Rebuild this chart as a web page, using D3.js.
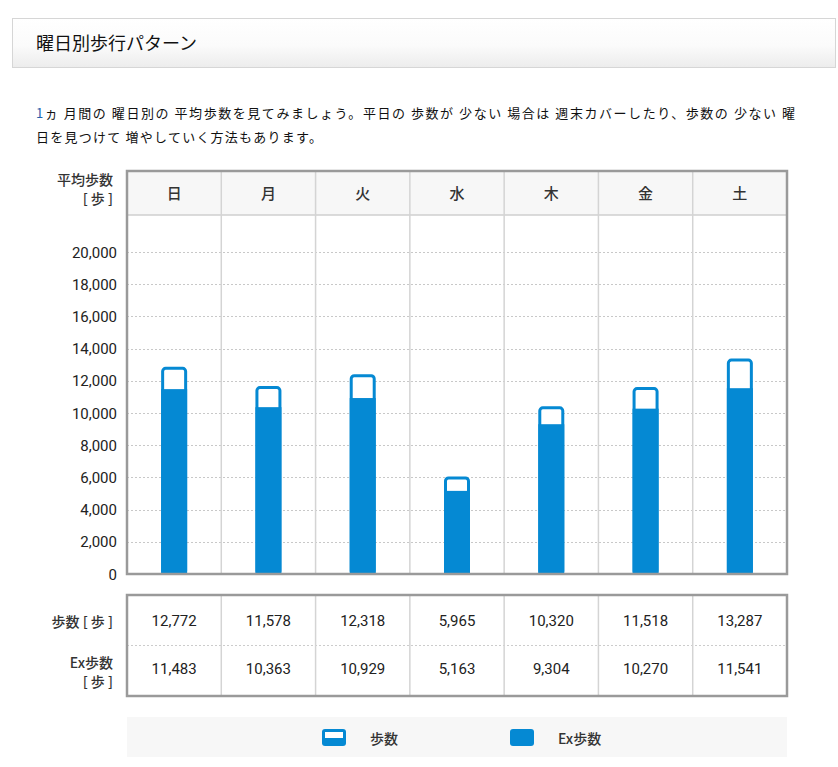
<!DOCTYPE html>
<html>
<head>
<meta charset="utf-8">
<script src="https://cdn.jsdelivr.net/npm/d3@7"></script>
<style>
  body { margin: 0; background: #fff; }
  svg { display: block; }
  .jp { font-family: "Noto Sans CJK JP", sans-serif; }
  .num { font-family: Roboto, "Noto Sans CJK JP", sans-serif; }
</style>
</head>
<body>
<div id="chart"></div>
<script>
// data
const days = ["日", "月", "火", "水", "木", "金", "土"];
const steps = [12772, 11578, 12318, 5965, 10320, 11518, 13287];
const exSteps = [11483, 10363, 10929, 5163, 9304, 10270, 11541];
const yTicks = [0, 2000, 4000, 6000, 8000, 10000, 12000, 14000, 16000, 18000, 20000];

const W = 838, H = 767;
const blue = "#0589d3";
const fmt = d3.format(",");

const svg = d3.select("#chart").append("svg")
    .attr("width", W)
    .attr("height", H);

// title box
const defs = svg.append("defs");
const grad = defs.append("linearGradient")
    .attr("id", "titleGrad")
    .attr("x1", 0).attr("y1", 0).attr("x2", 0).attr("y2", 1);
grad.append("stop").attr("offset", "0%").attr("stop-color", "#ffffff");
grad.append("stop").attr("offset", "55%").attr("stop-color", "#fbfbfb");
grad.append("stop").attr("offset", "100%").attr("stop-color", "#ececec");

svg.append("rect")
    .attr("x", 12.5).attr("y", 18.5)
    .attr("width", 823).attr("height", 49)
    .attr("fill", "url(#titleGrad)")
    .attr("stroke", "#d6d6d6");

svg.append("text")
    .attr("class", "jp")
    .attr("x", 36).attr("y", 50)
    .attr("font-size", 18)
    .attr("font-weight", 400)
    .attr("fill", "#111")
    .text("曜日別歩行パターン");

// description
const line1 = svg.append("text")
    .attr("class", "jp")
    .attr("x", 36).attr("y", 118)
    .attr("font-size", 13)
    .attr("font-weight", 400)
    .attr("fill", "#111")
    .attr("textLength", 759)
    .attr("lengthAdjust", "spacing");
line1.append("tspan").attr("fill", "#1f62ad").text("1");
line1.append("tspan").text("ヵ 月間の 曜日別の 平均歩数を見てみましょう。平日の 歩数が 少ない 場合は 週末カバーしたり、歩数の 少ない 曜");

svg.append("text")
    .attr("class", "jp")
    .attr("x", 36).attr("y", 142)
    .attr("font-size", 13)
    .attr("font-weight", 400)
    .attr("fill", "#111")
    .attr("textLength", 286)
    .attr("lengthAdjust", "spacing")
    .text("日を見つけて 増やしていく方法もあります。");

// chart area
const left = 127, right = 787;
const headTop = 171, headBottom = 215, plotBottom = 574;

const x = d3.scaleBand()
    .domain(days)
    .range([left, right]);

const y = d3.scaleLinear()
    .domain([0, 20000])
    .range([plotBottom, 252]);

// header background
svg.append("rect")
    .attr("x", left).attr("y", headTop)
    .attr("width", right - left).attr("height", headBottom - headTop)
    .attr("fill", "#f7f7f7");

svg.append("line")
    .attr("x1", left).attr("x2", right)
    .attr("y1", headBottom).attr("y2", headBottom)
    .attr("stroke", "#cfcfcf").attr("stroke-width", 1.5);

// dotted grid
svg.append("g")
    .selectAll("line")
    .data(yTicks.filter(d => d > 0))
    .join("line")
    .attr("x1", left).attr("x2", right)
    .attr("y1", d => Math.round(y(d)) + 0.5)
    .attr("y2", d => Math.round(y(d)) + 0.5)
    .attr("stroke", "#c8c8c8")
    .attr("stroke-dasharray", "2,2");

// column separators
svg.append("g")
    .selectAll("line")
    .data(days.slice(1))
    .join("line")
    .attr("x1", d => x(d)).attr("x2", d => x(d))
    .attr("y1", headTop).attr("y2", plotBottom)
    .attr("stroke", "#d4d4d4").attr("stroke-width", 1.5);

// day labels
svg.append("g")
    .selectAll("text")
    .data(days)
    .join("text")
    .attr("class", "jp")
    .attr("x", d => x(d) + x.bandwidth() / 2)
    .attr("y", 199)
    .attr("text-anchor", "middle")
    .attr("font-size", 15)
    .attr("font-weight", 500)
    .attr("fill", "#333")
    .text(d => d);

// y axis labels
svg.append("g")
    .selectAll("text")
    .data(yTicks)
    .join("text")
    .attr("class", "num")
    .attr("x", 117)
    .attr("y", d => y(d) + 5.5)
    .attr("text-anchor", "end")
    .attr("font-size", 15)
    .attr("font-weight", 400)
    .attr("fill", "#222")
    .text(d => fmt(d));

svg.append("text")
    .attr("class", "jp")
    .attr("x", 113).attr("y", 185)
    .attr("text-anchor", "end")
    .attr("font-size", 14)
    .attr("font-weight", 500)
    .attr("fill", "#333")
    .text("平均歩数");
svg.append("text")
    .attr("class", "jp")
    .attr("x", 113).attr("y", 204)
    .attr("text-anchor", "end")
    .attr("font-size", 14)
    .attr("font-weight", 500)
    .attr("fill", "#333")
    .text("[ 歩 ]");

// bars
const barW = 23;
const bars = svg.append("g")
    .selectAll("g")
    .data(days.map((d, i) => ({day: d, steps: steps[i], ex: exSteps[i]})))
    .join("g");

bars.append("rect")
    .attr("x", d => x(d.day) + x.bandwidth() / 2 - barW / 2)
    .attr("y", d => y(d.steps))
    .attr("width", barW)
    .attr("height", d => y(0) - y(d.steps))
    .attr("rx", 3)
    .attr("fill", "#fff")
    .attr("stroke", blue)
    .attr("stroke-width", 3);

bars.append("rect")
    .attr("x", d => x(d.day) + x.bandwidth() / 2 - barW / 2 - 1.5)
    .attr("y", d => y(d.ex))
    .attr("width", barW + 3)
    .attr("height", d => y(0) - y(d.ex))
    .attr("fill", blue);

// cover anything below the base line
svg.append("rect")
    .attr("x", left).attr("y", plotBottom)
    .attr("width", right - left).attr("height", 6)
    .attr("fill", "#fff");

// chart frame
svg.append("rect")
    .attr("x", left).attr("y", headTop)
    .attr("width", right - left).attr("height", plotBottom - headTop)
    .attr("fill", "none")
    .attr("stroke", "#9a9a9a")
    .attr("stroke-width", 2.5);

// value table
const tTop = 595, tBottom = 696, tMid = 645;

svg.append("rect")
    .attr("x", left).attr("y", tTop)
    .attr("width", right - left).attr("height", tBottom - tTop)
    .attr("fill", "#fff");

svg.append("line")
    .attr("x1", left).attr("x2", right)
    .attr("y1", tMid + 0.5).attr("y2", tMid + 0.5)
    .attr("stroke", "#cccccc")
    .attr("stroke-dasharray", "2,2");

svg.append("g")
    .selectAll("line")
    .data(days.slice(1))
    .join("line")
    .attr("x1", d => x(d)).attr("x2", d => x(d))
    .attr("y1", tTop).attr("y2", tBottom)
    .attr("stroke", "#d4d4d4").attr("stroke-width", 1.5);

svg.append("g")
    .selectAll("text")
    .data(steps)
    .join("text")
    .attr("class", "num")
    .attr("x", (d, i) => x(days[i]) + x.bandwidth() / 2)
    .attr("y", 626)
    .attr("text-anchor", "middle")
    .attr("font-size", 15)
    .attr("font-weight", 400)
    .attr("fill", "#222")
    .text(d => fmt(d));

svg.append("g")
    .selectAll("text")
    .data(exSteps)
    .join("text")
    .attr("class", "num")
    .attr("x", (d, i) => x(days[i]) + x.bandwidth() / 2)
    .attr("y", 674)
    .attr("text-anchor", "middle")
    .attr("font-size", 15)
    .attr("font-weight", 400)
    .attr("fill", "#222")
    .text(d => fmt(d));

svg.append("rect")
    .attr("x", left).attr("y", tTop)
    .attr("width", right - left).attr("height", tBottom - tTop)
    .attr("fill", "none")
    .attr("stroke", "#9a9a9a")
    .attr("stroke-width", 2.5);

// row labels
const rowLabels = [
    {text: "歩数 [ 歩 ]", y: 627},
    {text: "Ex歩数", y: 668},
    {text: "[ 歩 ]", y: 687}
];
svg.append("g")
    .selectAll("text")
    .data(rowLabels)
    .join("text")
    .attr("class", "jp")
    .attr("x", 113)
    .attr("y", d => d.y)
    .attr("text-anchor", "end")
    .attr("font-size", 14)
    .attr("font-weight", 500)
    .attr("fill", "#333")
    .text(d => d.text);

// legend
svg.append("rect")
    .attr("x", left).attr("y", 717)
    .attr("width", right - left).attr("height", 40)
    .attr("fill", "#f7f7f7");

const legend = svg.append("g");
// 歩数 icon
legend.append("rect")
    .attr("x", 322).attr("y", 729)
    .attr("width", 24).attr("height", 17)
    .attr("rx", 3)
    .attr("fill", blue);
legend.append("rect")
    .attr("x", 325).attr("y", 732)
    .attr("width", 18).attr("height", 6)
    .attr("fill", "#fff");
legend.append("text")
    .attr("class", "jp")
    .attr("x", 370).attr("y", 744)
    .attr("font-size", 14)
    .attr("font-weight", 500)
    .attr("fill", "#333")
    .text("歩数");
// Ex歩数 icon
legend.append("rect")
    .attr("x", 510).attr("y", 729)
    .attr("width", 24).attr("height", 17)
    .attr("rx", 3)
    .attr("fill", blue);
legend.append("text")
    .attr("class", "jp")
    .attr("x", 558).attr("y", 744)
    .attr("font-size", 14)
    .attr("font-weight", 500)
    .attr("fill", "#333")
    .text("Ex歩数");
</script>
</body>
</html>
